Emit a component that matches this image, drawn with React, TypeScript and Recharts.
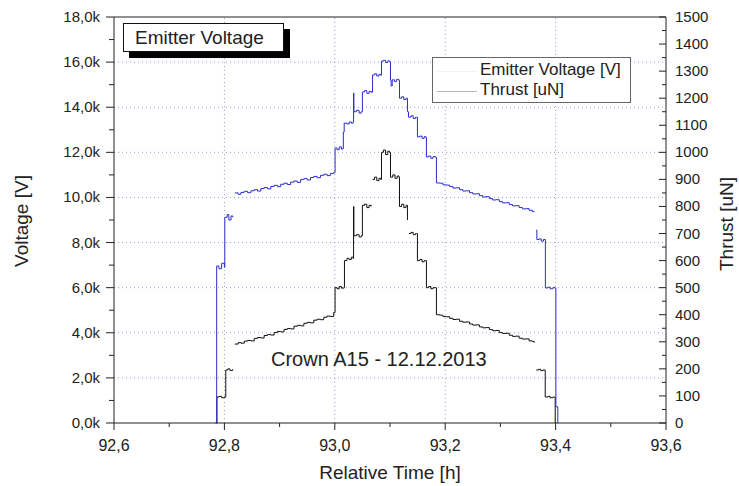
import { LineChart, Line, XAxis, YAxis, ReferenceLine } from 'recharts';

// Emitter voltage [V] (black, left axis); null = gap in the trace
const voltageTime = [
  92.784, 92.7865, 92.79, 92.795, 92.8, 92.8015, 92.8025, 92.806, 92.81, 92.815, 92.817,
  92.8188, 92.825, 92.83, 92.836, 92.842, 92.848, 92.854, 92.86, 92.866, 92.872, 92.878,
  92.884, 92.89, 92.896, 92.902, 92.908, 92.914, 92.92, 92.926, 92.932, 92.938, 92.944,
  92.95, 92.956, 92.962, 92.968, 92.974, 92.98, 92.986, 92.992, 92.998,
  93.0005, 93.004, 93.008, 93.012, 93.0165,
  93.0175, 93.022, 93.026, 93.03, 93.033,
  93.034, 93.0345, 93.039, 93.044, 93.048,
  93.05, 93.054, 93.058, 93.062, 93.066, 93.067,
  93.0684, 93.072, 93.076, 93.08, 93.083,
  93.0846, 93.088, 93.092, 93.096, 93.099,
  93.1009, 93.105, 93.109, 93.113, 93.116,
  93.1172, 93.121, 93.125, 93.129, 93.1316, 93.133,
  93.1345, 93.138, 93.142, 93.146, 93.148,
  93.1497, 93.154, 93.158, 93.162, 93.165,
  93.166, 93.17, 93.174, 93.178, 93.1825,
  93.1841, 93.19, 93.196, 93.202, 93.208, 93.214, 93.22, 93.226, 93.232, 93.238, 93.244,
  93.25, 93.256, 93.262, 93.268, 93.274, 93.28, 93.286, 93.292, 93.298, 93.304, 93.31,
  93.316, 93.322, 93.328, 93.334, 93.34, 93.346, 93.352, 93.358, 93.3613, 93.363,
  93.3649, 93.369, 93.373, 93.377, 93.3805,
  93.3812, 93.386, 93.39, 93.395, 93.3985, 93.3993, 93.4,
];
const voltageValues = [
  0, 1150, 1180, 1120, 1160, 1150, 2350, 2400, 2330, 2380, null,
  3500, 3560, 3540, 3630, 3660, 3640, 3750, 3790, 3770, 3880, 3920,
  3900, 4010, 4060, 4040, 4150, 4190, 4170, 4290, 4330, 4310, 4420,
  4460, 4440, 4560, 4600, 4580, 4690, 4740, 4720, 4900,
  6000, 5950, 6050, 5980, 6000,
  7200, 7300, 7250, 7350, 7300,
  9600, 8300, 8350, 8250, 8300,
  9650, 9700, 9550, 9650, 9600, null,
  10800, 10900, 10750, 10850, 10800,
  12000, 12100, 11900, 12050, 12000,
  10900, 11000, 10850, 10950, 10900,
  9600, 9700, 9550, 9650, 9000, null,
  8400, 8450, 8350, 8400, 8400,
  7200, 7250, 7150, 7200, 7200,
  6000, 6050, 5950, 6000, 6000,
  4800, 4780, 4720, 4710, 4640, 4590, 4600, 4510, 4470, 4480, 4390,
  4340, 4350, 4260, 4220, 4230, 4140, 4090, 4100, 4010, 3970, 3980,
  3890, 3840, 3850, 3760, 3720, 3730, 3640, 3610, 3560, null,
  2350, 2380, 2320, 2350, 2350,
  1150, 1180, 1120, 1150, 1150, 0, 0,
];

// Thrust [uN] (blue, right axis)
const thrustTime = [
  92.7855, 92.786, 92.79, 92.795, 92.8, 92.8007, 92.805, 92.808, 92.812, 92.815, 92.817,
  92.8188, 92.825, 92.83, 92.836, 92.842, 92.848, 92.854, 92.86, 92.866, 92.872, 92.878,
  92.884, 92.89, 92.896, 92.902, 92.908, 92.914, 92.92, 92.926, 92.932, 92.938, 92.944,
  92.95, 92.956, 92.962, 92.968, 92.974, 92.98, 92.986, 92.992, 92.998,
  93.0005, 93.004, 93.008, 93.012, 93.0145,
  93.0155, 93.017, 93.022, 93.026, 93.03, 93.033,
  93.034, 93.0345, 93.039, 93.044, 93.048,
  93.05, 93.054, 93.058, 93.062, 93.066,
  93.0684, 93.072, 93.076, 93.08, 93.083,
  93.0846, 93.088, 93.092, 93.096, 93.099,
  93.1009, 93.102, 93.104, 93.108, 93.112, 93.116,
  93.1172, 93.121, 93.125, 93.129, 93.1316,
  93.1335, 93.138, 93.142, 93.146, 93.148,
  93.1497, 93.154, 93.158, 93.162, 93.165,
  93.166, 93.17, 93.174, 93.178, 93.1825,
  93.1841, 93.19, 93.196, 93.202, 93.208, 93.214, 93.22, 93.226, 93.232, 93.238, 93.244,
  93.25, 93.256, 93.262, 93.268, 93.274, 93.28, 93.286, 93.292, 93.298, 93.304, 93.31,
  93.316, 93.322, 93.328, 93.334, 93.34, 93.346, 93.352, 93.358, 93.3613, 93.363,
  93.3649, 93.366, 93.37, 93.374, 93.378, 93.3812,
  93.3815, 93.386, 93.39, 93.395, 93.3993, 93.4005, 93.404,
];
const thrustValues = [
  0, 580, 570, 590, 575, 760, 770, 750, 765, 760, null,
  850, 845, 852, 856, 851, 858, 862, 857, 866, 870, 865,
  874, 878, 873, 882, 886, 881, 890, 894, 889, 899, 903,
  898, 907, 911, 906, 915, 919, 914, 922, 925,
  1016, 1010, 1020, 1012, 1015,
  1075, 1108, 1105, 1112, 1108, 1110,
  1219, 1150, 1155, 1145, 1150,
  1223, 1228, 1218, 1225, 1222,
  1286, 1290, 1282, 1288, 1285,
  1337, 1340, 1332, 1338, 1335,
  1267, 1245, 1268, 1262, 1270, 1266,
  1200, 1205, 1195, 1200, 1150,
  1130, 1135, 1125, 1130, 1130,
  1057, 1060, 1052, 1058, 1055,
  983, 986, 978, 984, 982,
  887, 886, 880, 879, 874, 868, 869, 862, 857, 858, 851,
  846, 847, 840, 835, 836, 829, 824, 825, 818, 813, 814,
  807, 802, 803, 796, 791, 792, 786, 781, 783, null,
  713, 678, 680, 672, 678, 676,
  499, 502, 496, 500, 498, 60, 0,
];

const timeTicks = [92.6, 92.7, 92.8, 92.9, 93.0, 93.1, 93.2, 93.3, 93.4, 93.5, 93.6];
const voltageTicks = [
  0, 1000, 2000, 3000, 4000, 5000, 6000, 7000, 8000, 9000, 10000,
  11000, 12000, 13000, 14000, 15000, 16000, 17000, 18000,
];
const thrustTicks = [
  0, 50, 100, 150, 200, 250, 300, 350, 400, 450, 500, 550, 600, 650, 700, 750,
  800, 850, 900, 950, 1000, 1050, 1100, 1150, 1200, 1250, 1300, 1350, 1400, 1450, 1500,
];
const gridVoltage = [2000, 4000, 6000, 8000, 10000, 12000, 14000, 16000];
const gridTime = [92.8, 93.0, 93.2, 93.4];

const voltageData = voltageTime.map((t, i) => ({ t, v: voltageValues[i] }));
const thrustData = thrustTime.map((t, i) => ({ t, f: thrustValues[i] }));

const FONT = '"Liberation Sans", Arial, sans-serif';
const INK = '#222';
const GRID = '#9a9ad0';

const LeftTick = (props: any) => {
  const { x, y, payload } = props;
  const v = payload.value;
  const major = v % 2000 === 0;
  const ax = x + 14;
  return (
    <g>
      <line x1={ax} x2={ax - (major ? 8 : 5)} y1={y} y2={y} stroke={INK} />
      {major && (
        <text x={x} y={y} dy={5} textAnchor="end" fontSize={15} fill={INK} fontFamily={FONT}>
          {(v / 1000).toFixed(1).replace('.', ',') + 'k'}
        </text>
      )}
    </g>
  );
};

const RightTick = (props: any) => {
  const { x, y, payload } = props;
  const v = payload.value;
  const major = v % 100 === 0;
  const ax = x - 9;
  return (
    <g>
      <line x1={ax} x2={ax - (major ? 7 : 4)} y1={y} y2={y} stroke={INK} />
      {major && (
        <text x={x} y={y} dy={5} textAnchor="start" fontSize={15} fill={INK} fontFamily={FONT}>
          {v}
        </text>
      )}
    </g>
  );
};

const BottomTick = (props: any) => {
  const { x, y, payload } = props;
  const v = payload.value;
  const major = Math.round(v * 10) % 2 === 0;
  const ay = y - 12;
  return (
    <g>
      <line x1={x} x2={x} y1={ay} y2={ay + (major ? 7 : 4)} stroke={INK} />
      {major && (
        <text x={x} y={y} dy={16} textAnchor="middle" fontSize={16} fill={INK} fontFamily={FONT}>
          {v.toFixed(1).replace('.', ',')}
        </text>
      )}
    </g>
  );
};

export default function App() {
  return (
    <div
      style={{
        position: 'absolute',
        left: 0,
        top: 0,
        width: 739,
        height: 486,
        background: '#fff',
        fontFamily: FONT,
        color: INK,
      }}
    >
      <LineChart width={739} height={486} margin={{ top: 17, right: 0, bottom: 0, left: 0 }}>
        <XAxis
          type="number"
          dataKey="t"
          domain={[92.6, 93.6]}
          ticks={timeTicks}
          interval={0}
          allowDataOverflow
          height={63}
          tickSize={8}
          tickMargin={4}
          tickLine={false}
          tick={<BottomTick />}
          axisLine={{ stroke: INK }}
        />
        <YAxis
          yAxisId="left"
          type="number"
          domain={[0, 18000]}
          ticks={voltageTicks}
          interval={0}
          width={114}
          tickSize={8}
          tickMargin={6}
          tickLine={false}
          tick={<LeftTick />}
          axisLine={{ stroke: INK }}
        />
        <YAxis
          yAxisId="right"
          orientation="right"
          type="number"
          domain={[0, 1500]}
          ticks={thrustTicks}
          interval={0}
          width={73}
          tickSize={0}
          tickMargin={9}
          tickLine={false}
          tick={<RightTick />}
          axisLine={{ stroke: INK }}
        />
        {gridVoltage.map((v) => (
          <ReferenceLine key={'h' + v} yAxisId="left" y={v} stroke={GRID} strokeDasharray="1 3" />
        ))}
        {gridTime.map((t) => (
          <ReferenceLine key={'v' + t} yAxisId="left" x={t} stroke={GRID} strokeDasharray="1 3" />
        ))}
        <ReferenceLine yAxisId="left" y={18000} stroke={INK} />
        <Line
          yAxisId="left"
          data={voltageData}
          dataKey="v"
          type="stepAfter"
          stroke="#111"
          strokeWidth={1}
          dot={false}
          activeDot={false}
          isAnimationActive={false}
        />
        <Line
          yAxisId="right"
          data={thrustData}
          dataKey="f"
          type="stepAfter"
          stroke="#2d2dcc"
          strokeWidth={1}
          dot={false}
          activeDot={false}
          isAnimationActive={false}
        />
      </LineChart>

      {/* title box with drop shadow */}
      <div style={{ position: 'absolute', left: 129, top: 29, width: 161, height: 29, background: '#000' }} />
      <div
        style={{
          position: 'absolute',
          left: 123,
          top: 23,
          width: 161,
          height: 29,
          background: '#fff',
          border: '1px solid #111',
          fontSize: 19,
          lineHeight: '27px',
          paddingLeft: 11,
          boxSizing: 'border-box',
          whiteSpace: 'nowrap',
        }}
      >
        Emitter Voltage
      </div>

      {/* legend */}
      <div
        style={{
          position: 'absolute',
          left: 432,
          top: 57,
          width: 197,
          height: 44,
          background: '#fff',
          border: '1px solid #666',
          fontSize: 17,
          whiteSpace: 'nowrap',
        }}
      >
        <div style={{ position: 'absolute', left: 4, top: 13, width: 40, borderTop: '1px solid #f2f2f2' }} />
        <div style={{ position: 'absolute', left: 47, top: 2, lineHeight: '20px' }}>Emitter Voltage [V]</div>
        <div style={{ position: 'absolute', left: 4, top: 33, width: 40, borderTop: '1px solid #b4b4c8' }} />
        <div style={{ position: 'absolute', left: 47, top: 22, lineHeight: '20px' }}>Thrust [uN]</div>
      </div>

      <div style={{ position: 'absolute', left: 271, top: 348, fontSize: 20, whiteSpace: 'nowrap' }}>
        Crown A15 - 12.12.2013
      </div>

      <div
        style={{
          position: 'absolute',
          left: 390,
          top: 473,
          transform: 'translate(-50%, -50%)',
          fontSize: 19,
          whiteSpace: 'nowrap',
        }}
      >
        Relative Time [h]
      </div>
      <div
        style={{
          position: 'absolute',
          left: 22,
          top: 221,
          transform: 'translate(-50%, -50%) rotate(-90deg)',
          fontSize: 19,
          whiteSpace: 'nowrap',
        }}
      >
        Voltage [V]
      </div>
      <div
        style={{
          position: 'absolute',
          left: 727,
          top: 224,
          transform: 'translate(-50%, -50%) rotate(-90deg)',
          fontSize: 19,
          whiteSpace: 'nowrap',
        }}
      >
        Thrust [uN]
      </div>
    </div>
  );
}
